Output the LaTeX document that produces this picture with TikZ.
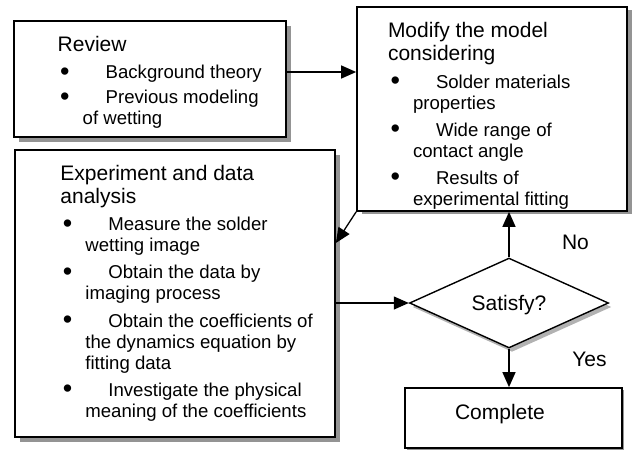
\documentclass[tikz,border=0pt]{standalone}
\usepackage{fontspec}
\setmainfont{Liberation Sans}
\usetikzlibrary{shapes.geometric,shadows,arrows.meta}

% font sizes for headings and bullet text
\newcommand\hdsize{\fontsize{21pt}{23.5pt}\selectfont}
\newcommand\bdsize{\fontsize{18.6pt}{21pt}\selectfont}
% a slightly enlarged bullet
\newcommand\bigbullet{\raisebox{-1.6pt}{\scalebox{1.45}{\textbullet}}}
% one line of a text block, each with its own baseline distance
\newcommand\blockhead[1]{\baselineskip=23.5pt\hbox{\hdsize #1}}
\newcommand\blockitem[2][27.2pt]{\baselineskip=#1\hbox{\bdsize\rlap{\kern2.5pt\bigbullet}\kern48pt #2}}
\newcommand\blockcont[1]{\baselineskip=21pt\hbox{\bdsize\kern25pt #1}}
\newcommand\txtblock[1]{\vtop{\lineskiplimit=-\maxdimen\lineskip=0pt #1}}

\begin{document}
\begin{tikzpicture}[x=1pt,y=-1pt,
  shad/.style 2 args={drop shadow={shadow xshift=#1,shadow yshift=#2,fill=black!42,opacity=1}},
  box/.style={draw, line width=1.7pt, fill=white, inner sep=0pt},
  txt/.style={anchor=base west, inner sep=0pt},
  lbl/.style={font=\hdsize, inner sep=0pt, anchor=base},
  arr/.style={line width=1.3pt, -{Triangle[length=15pt,width=13pt]}}]
\useasboundingbox (0,0) rectangle (633,450);

% boxes
\node[box, shad={5pt}{-5pt}, minimum width=272pt, minimum height=116pt] (review) at (150,79) {};
\node[box, shad={5pt}{-2.5pt}, minimum width=270pt, minimum height=204pt] (modify) at (492,109) {};
\node[box, shad={5pt}{-5pt}, minimum width=320pt, minimum height=287pt] (exper) at (175,293.5) {};
\node[box, shad={2pt}{-2pt}, minimum width=217pt, minimum height=60pt] (complete) at (513.5,418) {};
\node[draw, diamond, line width=1.4pt, fill=white, inner sep=0pt,
      minimum width=199pt, minimum height=68pt,
      drop shadow={shadow xshift=3pt,shadow yshift=-4pt,fill=black!30,opacity=1},
      font=\hdsize, text depth=0pt] (satisfy) at (509,303) {Satisfy?};

% box contents
\node[txt] (reviewtext) at (57.5,51.7) {\txtblock{
  \blockhead{Review}
  \blockitem{Background theory}
  \blockitem[25pt]{Previous modeling}
  \blockcont{of wetting}}};
\node[txt] (modifytext) at (387.8,37.3) {\txtblock{
  \blockhead{Modify the model}
  \blockhead{considering}
  \blockitem{Solder materials}
  \blockcont{properties}
  \blockitem{Wide range of}
  \blockcont{contact angle}
  \blockitem{Results of}
  \blockcont{experimental fitting}}};
\node[txt] (expertext) at (60.2,180) {\txtblock{
  \blockhead{Experiment and data}
  \blockhead{analysis}
  \blockitem{Measure the solder}
  \blockcont{wetting image}
  \blockitem{Obtain the data by}
  \blockcont{imaging process}
  \blockitem{Obtain the coefficients of}
  \blockcont{the dynamics equation by}
  \blockcont{fitting data}
  \blockitem{Investigate the physical}
  \blockcont{meaning of the coefficients}}};
\node[lbl] (completetext) at (500,419.5) {Complete};
\node[lbl] (nolbl) at (575.5,249.3) {No};
\node[lbl] (yeslbl) at (589.5,366.7) {Yes};

% connectors
\coordinate (reviewout) at ([yshift=7pt]review.east);
\coordinate (experin) at ([yshift=50.5pt]exper.east);
\draw[arr] (reviewout) -- (reviewout -| modify.west);
\draw[arr] (modify.south west) -- (experin);
\draw[arr] (satisfy.west -| exper.east) -- (satisfy.west);
\draw[arr] (satisfy.north) -- (satisfy.north |- modify.south);
\draw[arr] (satisfy.south) -- (satisfy.south |- complete.north);
\end{tikzpicture}
\end{document}
